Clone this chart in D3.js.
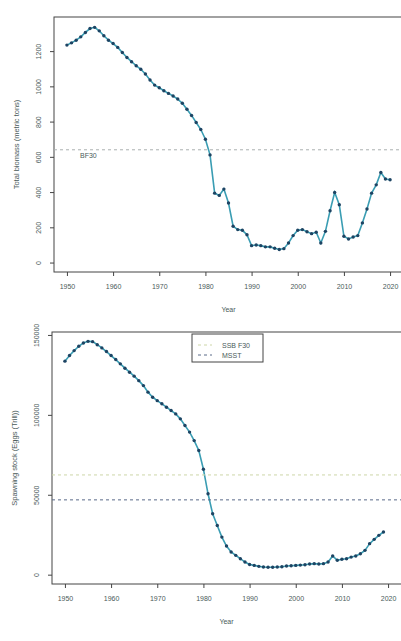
<!DOCTYPE html>
<html>
<head>
<meta charset="utf-8">
<script src="https://cdn.jsdelivr.net/npm/d3@7"></script>
<style>
  html, body { margin: 0; padding: 0; background: #ffffff; }
  svg { display: block; font-family: "Liberation Sans", Arial, sans-serif; }
</style>
</head>
<body>
<svg id="chart" width="401" height="641"></svg>
<script>
// Total biomass (metric tons), 1950-2020
const biomassYears = d3.range(1950, 2021);
const biomass = [
  1234, 1247, 1262, 1281, 1306, 1328, 1335, 1315, 1287, 1262,
  1243, 1221, 1192, 1164, 1140, 1117, 1097, 1070, 1036, 1007,
  992, 975, 960, 945, 928, 904, 870, 835, 795, 755,
  700, 611, 394, 381, 417, 338, 206, 187, 183, 158,
  96, 100, 96, 89, 89, 81, 74, 79, 111, 153,
  183, 187, 175, 164, 172, 111, 177, 294, 398, 328,
  149, 134, 145, 153, 225, 304, 394, 441, 511, 474,
  470
];
const bf30 = 640;

// Spawning stock, 1950-2019
const ssbYears = d3.range(1950, 2020);
const ssb = [
  133600, 137100, 140200, 142900, 145000, 146000, 145800, 143900, 141900, 139600,
  137100, 134600, 131900, 129200, 126700, 124200, 121400, 118300, 114200, 111000,
  108900, 106900, 104800, 102700, 100600, 97500, 93300, 89200, 83900, 77700,
  66000, 50600, 38100, 30800, 23500, 17900, 14200, 12100, 10000, 7900,
  6400, 5800, 5200, 4800, 4600, 4600, 4800, 5000, 5400, 5600,
  5800, 6000, 6200, 6700, 6900, 6700, 6900, 7900, 11700, 9000,
  9600, 10000, 11000, 11700, 13100, 15200, 19400, 22100, 24600, 26700
];
const ssbF30 = 62400;
const msst = 46800;

const xTicks = [1950, 1960, 1970, 1980, 1990, 2000, 2010, 2020];
const biomassTicks = [0, 200, 400, 600, 800, 1000, 1200];
const ssbTicks = [0, 50000, 100000, 150000];
const legendLabels = ["SSB F30", "MSST"];

const svg = d3.select("#chart");

const lineColor = "#3a9db3";
const pointColor = "#1d4463";
const axisColor = "#444";
const textColor = "#4a5a5a";

// expand a [lo, hi] range by 4% on each side, like base R graphics
function expand(lo, hi) {
  const d = (hi - lo) * 0.04;
  return [lo - d, hi + d];
}

function panel(opts) {
  const { left, right, top, bottom, years, values, yTicks, yTitle, yMax } = opts;
  const x = d3.scaleLinear().domain(expand(1950, 2020)).range([left, right]);
  const y = d3.scaleLinear().domain(expand(0, yMax)).range([bottom, top]);
  const g = svg.append("g");

  // plot box (its right edge runs past the page edge)
  g.append("rect")
    .attr("x", left).attr("y", top)
    .attr("width", right - left + 8).attr("height", bottom - top)
    .attr("fill", "none").attr("stroke", axisColor).attr("stroke-width", 1);

  // x axis
  const xAxis = d3.axisBottom(x).tickValues(xTicks).tickSize(4).tickSizeOuter(0)
    .tickFormat(d3.format("d"));
  const gx = g.append("g").attr("transform", `translate(0,${bottom})`).call(xAxis);
  gx.select(".domain").remove();
  gx.selectAll("line").attr("stroke", axisColor);
  gx.selectAll("text").attr("font-size", 7).attr("fill", textColor).attr("dy", 0)
    .attr("y", 17);

  // y axis with labels turned sideways
  const yAxis = d3.axisLeft(y).tickValues(yTicks).tickSize(4).tickSizeOuter(0)
    .tickFormat(d3.format("d"));
  const gy = g.append("g").attr("transform", `translate(${left},0)`).call(yAxis);
  gy.select(".domain").remove();
  gy.selectAll("line").attr("stroke", axisColor);
  gy.selectAll("text")
    .attr("font-size", 7).attr("fill", textColor)
    .attr("x", null).attr("dy", null)
    .attr("text-anchor", "middle")
    .attr("transform", "translate(-13,0) rotate(-90)");

  // axis titles
  g.append("text")
    .attr("x", (x(1950) + x(2020)) / 2).attr("y", bottom + 40)
    .attr("text-anchor", "middle").attr("font-size", 7).attr("fill", textColor)
    .text("Year");
  g.append("text")
    .attr("transform", `translate(${left - 35},${(top + bottom) / 2}) rotate(-90)`)
    .attr("text-anchor", "middle").attr("font-size", 7.5).attr("fill", textColor)
    .text(yTitle);

  // series
  const pts = years.map((yr, i) => [yr, values[i]]);
  g.append("path")
    .datum(pts)
    .attr("fill", "none").attr("stroke", lineColor).attr("stroke-width", 1.6)
    .attr("d", d3.line().x(d => x(d[0])).y(d => y(d[1])));
  g.selectAll("circle.pt").data(pts).join("circle")
    .attr("class", "pt")
    .attr("cx", d => x(d[0])).attr("cy", d => y(d[1]))
    .attr("r", 1.7).attr("fill", pointColor);

  return { x, y, g };
}

// upper panel: total biomass
const biomassPanel = panel({
  left: 54, right: 403, top: 17, bottom: 272,
  years: biomassYears, values: biomass, yTicks: biomassTicks,
  yTitle: "Total biomass (metric tons)", yMax: 1340
});
biomassPanel.g.append("line")
  .attr("x1", 54).attr("x2", 410)
  .attr("y1", biomassPanel.y(bf30)).attr("y2", biomassPanel.y(bf30))
  .attr("stroke", "#aab0b0").attr("stroke-width", 1).attr("stroke-dasharray", "3,3");
biomassPanel.g.append("text")
  .attr("x", 80).attr("y", biomassPanel.y(bf30) + 8)
  .attr("font-size", 7).attr("fill", textColor).text("BF30");

// lower panel: spawning stock
const ssbPanel = panel({
  left: 52, right: 401, top: 332, bottom: 584,
  years: ssbYears, values: ssb, yTicks: ssbTicks,
  yTitle: "Spawning stock (Eggs (Trill))", yMax: 146000
});
const refLines = [
  { v: ssbF30, color: "#cdd6a8" },
  { v: msst, color: "#5a6a88" }
];
ssbPanel.g.selectAll("line.ref").data(refLines).join("line")
  .attr("class", "ref")
  .attr("x1", 52).attr("x2", 410)
  .attr("y1", d => ssbPanel.y(d.v)).attr("y2", d => ssbPanel.y(d.v))
  .attr("stroke", d => d.color).attr("stroke-width", 1).attr("stroke-dasharray", "3,3");

// legend
const lg = ssbPanel.g.append("g").attr("transform", "translate(192,334)");
lg.append("rect").attr("width", 71).attr("height", 28)
  .attr("fill", "#fff").attr("stroke", axisColor).attr("stroke-width", 1);
legendLabels.forEach((lab, i) => {
  const yy = 11 + i * 10;
  lg.append("line").attr("x1", 6).attr("x2", 20).attr("y1", yy).attr("y2", yy)
    .attr("stroke", refLines[i].color).attr("stroke-width", 1).attr("stroke-dasharray", "3,3");
  lg.append("text").attr("x", 30).attr("y", yy + 2.5)
    .attr("font-size", 7).attr("fill", textColor).text(lab);
});
</script>
</body>
</html>
